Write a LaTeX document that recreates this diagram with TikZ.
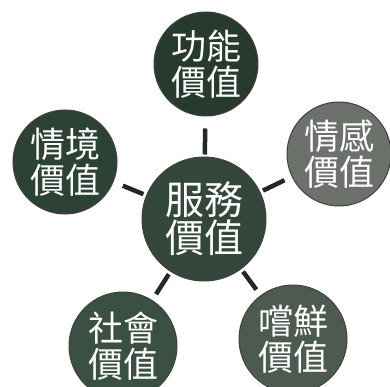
\documentclass[tikz,border=0pt]{standalone}
\usepackage{fontspec}
\newfontfamily\cjk{Noto Sans CJK TC}
\definecolor{cTop}{HTML}{263B2E}
\definecolor{cCen}{HTML}{33483A}
\definecolor{cLeft}{HTML}{2C4234}
\definecolor{cRight}{HTML}{6C716C}
\definecolor{cBL}{HTML}{3A5042}
\definecolor{cBR}{HTML}{4C5A50}
\definecolor{cLine}{HTML}{222822}
\tikzset{
  valnode/.style={circle, inner sep=0pt, minimum size=104pt, draw=black!75, line width=1pt,
    text=white, align=center, font=\cjk\fontsize{35}{36}\selectfont},
  cennode/.style={valnode, minimum size=124pt, font=\cjk\fontsize{39}{38}\selectfont},
  conn/.style={draw=cLine, line width=4.5pt}
}
\begin{document}
\begin{tikzpicture}[x=1pt,y=-1pt]
\useasboundingbox (0,0) rectangle (390,387);
\node[cennode, fill=cCen] (c) at (204,219) {服務\\價值};
\node[valnode, fill=cTop] (t) at (206,64) {功能\\價值};
\node[valnode, fill=cLeft] (l) at (65,162) {情境\\價值};
\node[valnode, fill=cRight] (r) at (339,154) {情感\\價值};
\node[valnode, fill=cBL, minimum size=108pt] (bl) at (123,346) {社會\\價值};
\node[valnode, fill=cBR, minimum size=108pt] (br) at (293,339) {嚐鮮\\價值};
\draw[conn, shorten >=12pt, shorten <=2pt] (c) -- (t);
\draw[conn, shorten >=10pt, shorten <=3pt] (c) -- (l);
\draw[conn, shorten >=8pt, shorten <=3pt] (c) -- (r);
\draw[conn, shorten >=7pt, shorten <=3pt] (c) -- (bl);
\draw[conn, shorten >=7pt, shorten <=3pt] (c) -- (br);
\end{tikzpicture}
\end{document}
